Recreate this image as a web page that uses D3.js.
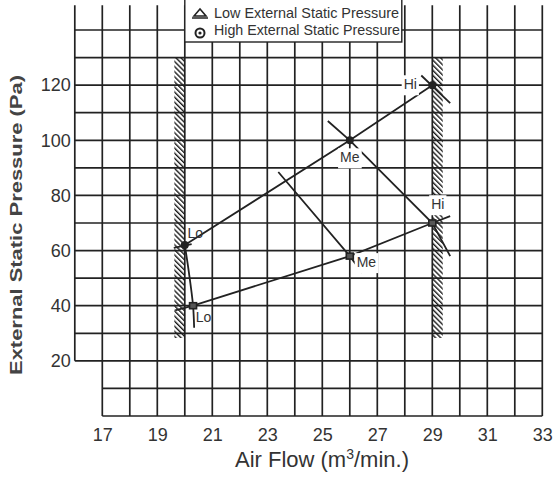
<!DOCTYPE html>
<html>
<head>
<meta charset="utf-8">
<script src="https://cdn.jsdelivr.net/npm/d3@7"></script>
<style>
  body { margin: 0; background: #fff; }
  svg { display: block; font-family: 'Liberation Sans', Arial, sans-serif; }
</style>
</head>
<body>
<div id="chart"></div>
<script>
// Data
const flowTicks = [17, 19, 21, 23, 25, 27, 29, 31, 33];
const pressureTicks = [20, 40, 60, 80, 100, 120];

// operating points (air flow, pressure)
const lowPoints = [
  { tap: 'Lo', flow: 20.3, pa: 40 },
  { tap: 'Me', flow: 26, pa: 58 },
  { tap: 'Hi', flow: 29, pa: 70 },
];
const highPoints = [
  { tap: 'Lo', flow: 20, pa: 62 },
  { tap: 'Me', flow: 26, pa: 100 },
  { tap: 'Hi', flow: 29, pa: 120 },
];

// curves drawn through the points
const lowLine = [[19.65, 38.3], [20.3, 40], [26, 58], [29, 70], [29.65, 72.5]];
const highLine = [[20, 62], [26, 100], [29, 120]];
const loTap = [[20, 62], [20.15, 52], [20.3, 40], [20.34, 32]];
const loTick = [[19.6, 61], [20.25, 62.3]];
const meTap = [[23.4, 88.5], [26, 58], [26.45, 52]];
const hiTap = [[25.2, 107], [26, 100], [29, 70], [29.65, 58]];
const hiTick = [[28.6, 123.5], [29.65, 113.5]];

// hatched limits: [flow from, flow to, pa from, pa to]
const limits = [
  [19.62, 20, 28.3, 130],
  [29, 29.38, 28.3, 130],
];

// Dimensions
const dimensions = { width: 557, height: 482 };

const xScale = d3.scaleLinear().domain([17, 33]).range([102.3, 542.3]);
const yScale = d3.scaleLinear().domain([0, 140]).range([416, 30]);

const svg = d3
  .select('#chart')
  .append('svg')
  .attr('width', dimensions.width)
  .attr('height', dimensions.height);

const defs = svg.append('defs');
defs
  .append('pattern')
  .attr('id', 'hatch')
  .attr('patternUnits', 'userSpaceOnUse')
  .attr('width', 3.6)
  .attr('height', 3.6)
  .attr('patternTransform', 'rotate(-45)')
  .append('line')
  .attr('x1', 0)
  .attr('y1', 0)
  .attr('x2', 0)
  .attr('y2', 3.6)
  .attr('stroke', '#1a1a1a')
  .attr('stroke-width', 2.8);

const ink = '#222';

// Grid
const grid = svg.append('g').attr('stroke', ink).attr('stroke-width', 1.7);
grid
  .selectAll('line.h')
  .data(d3.range(0, 141, 10))
  .join('line')
  .attr('x1', (d) => (d >= 20 ? xScale(16) : xScale(17)))
  .attr('x2', xScale(33))
  .attr('y1', (d) => yScale(d))
  .attr('y2', (d) => yScale(d));
grid
  .selectAll('line.v')
  .data(d3.range(16, 34))
  .join('line')
  .attr('x1', (d) => xScale(d))
  .attr('x2', (d) => xScale(d))
  .attr('y1', yScale(149))
  .attr('y2', (d) => (d === 16 ? yScale(20) : yScale(0)));

// Hatched areas
svg
  .selectAll('rect.limit')
  .data(limits)
  .join('rect')
  .attr('x', (d) => xScale(d[0]))
  .attr('width', (d) => xScale(d[1]) - xScale(d[0]))
  .attr('y', (d) => yScale(d[3]))
  .attr('height', (d) => yScale(d[2]) - yScale(d[3]))
  .attr('fill', 'url(#hatch)');

// Curves
const line = d3
  .line()
  .x((d) => xScale(d[0]))
  .y((d) => yScale(d[1]));
const curve = d3
  .line()
  .curve(d3.curveCatmullRom)
  .x((d) => xScale(d[0]))
  .y((d) => yScale(d[1]));

const curves = svg.append('g').attr('fill', 'none').attr('stroke', ink).attr('stroke-width', 1.8);
[lowLine, highLine, loTick, meTap, hiTap, hiTick].forEach((pts) => {
  curves.append('path').attr('d', line(pts));
});
curves.append('path').attr('d', curve(loTap));

// Labels with white backing
const labels = [
  { text: 'Lo', flow: 20.1, pa: 64.5, box: false, anchor: 'start' },
  { text: 'Lo', flow: 20.4, pa: 34, box: false, anchor: 'start' },
  { text: 'Me', flow: 26, pa: 92, box: true, anchor: 'middle' },
  { text: 'Me', flow: 26.25, pa: 54, box: true, anchor: 'start' },
  { text: 'Hi', flow: 28.2, pa: 118.5, box: true, anchor: 'middle' },
  { text: 'Hi', flow: 29.2, pa: 75, box: true, anchor: 'middle' },
];
const labelG = svg.append('g');
labels.forEach((d) => {
  const t = labelG
    .append('text')
    .attr('x', xScale(d.flow))
    .attr('y', yScale(d.pa))
    .attr('text-anchor', d.anchor)
    .attr('font-size', 14)
    .attr('fill', '#333')
    .text(d.text);
  if (d.box) {
    const b = t.node().getBBox();
    labelG
      .insert('rect', () => t.node())
      .attr('x', b.x - 2)
      .attr('y', b.y - 1)
      .attr('width', b.width + 4)
      .attr('height', b.height + 4)
      .attr('fill', '#fff');
  }
});

// Points
svg
  .selectAll('circle.high')
  .data(highPoints)
  .join('circle')
  .attr('cx', (d) => xScale(d.flow))
  .attr('cy', (d) => yScale(d.pa))
  .attr('r', 4)
  .attr('fill', ink);
svg
  .selectAll('rect.low')
  .data(lowPoints)
  .join('rect')
  .attr('x', (d) => xScale(d.flow) - 3.5)
  .attr('y', (d) => yScale(d.pa) - 3)
  .attr('width', 7)
  .attr('height', 6)
  .attr('fill', '#555')
  .attr('stroke', ink)
  .attr('stroke-width', 1.6);

// Axes
const xAxis = svg
  .append('g')
  .attr('transform', `translate(0, ${yScale(0)})`)
  .call(d3.axisBottom(xScale).tickValues(flowTicks).tickSize(0).tickPadding(12).tickFormat(d3.format('d')));
const yAxis = svg
  .append('g')
  .attr('transform', `translate(${xScale(16)}, 0)`)
  .call(d3.axisLeft(yScale).tickValues(pressureTicks).tickSize(0).tickPadding(4));
[xAxis, yAxis].forEach((g) => {
  g.select('.domain').remove();
  g.selectAll('text').attr('font-size', 18).attr('fill', '#333').attr('font-family', "'Liberation Sans', Arial, sans-serif");
});

svg
  .append('text')
  .attr('x', 322)
  .attr('y', 467)
  .attr('text-anchor', 'middle')
  .attr('font-size', 22)
  .attr('fill', '#333')
  .html('Air Flow (m<tspan font-size="14" dy="-8">3</tspan><tspan dy="8">/min.)</tspan>');

svg
  .append('text')
  .attr('transform', 'translate(22, 225) rotate(-90)')
  .attr('text-anchor', 'middle')
  .attr('font-size', 17)
  .attr('font-weight', 'bold')
  .attr('fill', '#444')
  .attr('textLength', 300)
  .attr('lengthAdjust', 'spacingAndGlyphs')
  .text('External Static Pressure (Pa)');

// Legend
const legend = svg.append('g');
legend
  .append('rect')
  .attr('x', xScale(20))
  .attr('y', -2)
  .attr('width', 217)
  .attr('height', 44)
  .attr('fill', '#fff')
  .attr('stroke', ink)
  .attr('stroke-width', 1.4);
legend
  .append('path')
  .attr('d', 'M194,16 L200,9 L206,16 Z M192,18 L208,18')
  .attr('fill', 'none')
  .attr('stroke', ink)
  .attr('stroke-width', 1.6);
legend
  .append('circle')
  .attr('cx', 200)
  .attr('cy', 33)
  .attr('r', 4.5)
  .attr('fill', 'none')
  .attr('stroke', ink)
  .attr('stroke-width', 2);
legend.append('circle').attr('cx', 200).attr('cy', 33).attr('r', 1.6).attr('fill', ink);
legend
  .selectAll('text')
  .data(['Low External Static Pressure', 'High External Static Pressure'])
  .join('text')
  .attr('x', 214)
  .attr('y', (d, i) => 18 + i * 17)
  .attr('font-size', 14.5)
  .attr('fill', '#333')
  .attr('textLength', (d, i) => (i === 0 ? 185 : 186))
  .attr('lengthAdjust', 'spacingAndGlyphs')
  .text((d) => d);
</script>
</body>
</html>
